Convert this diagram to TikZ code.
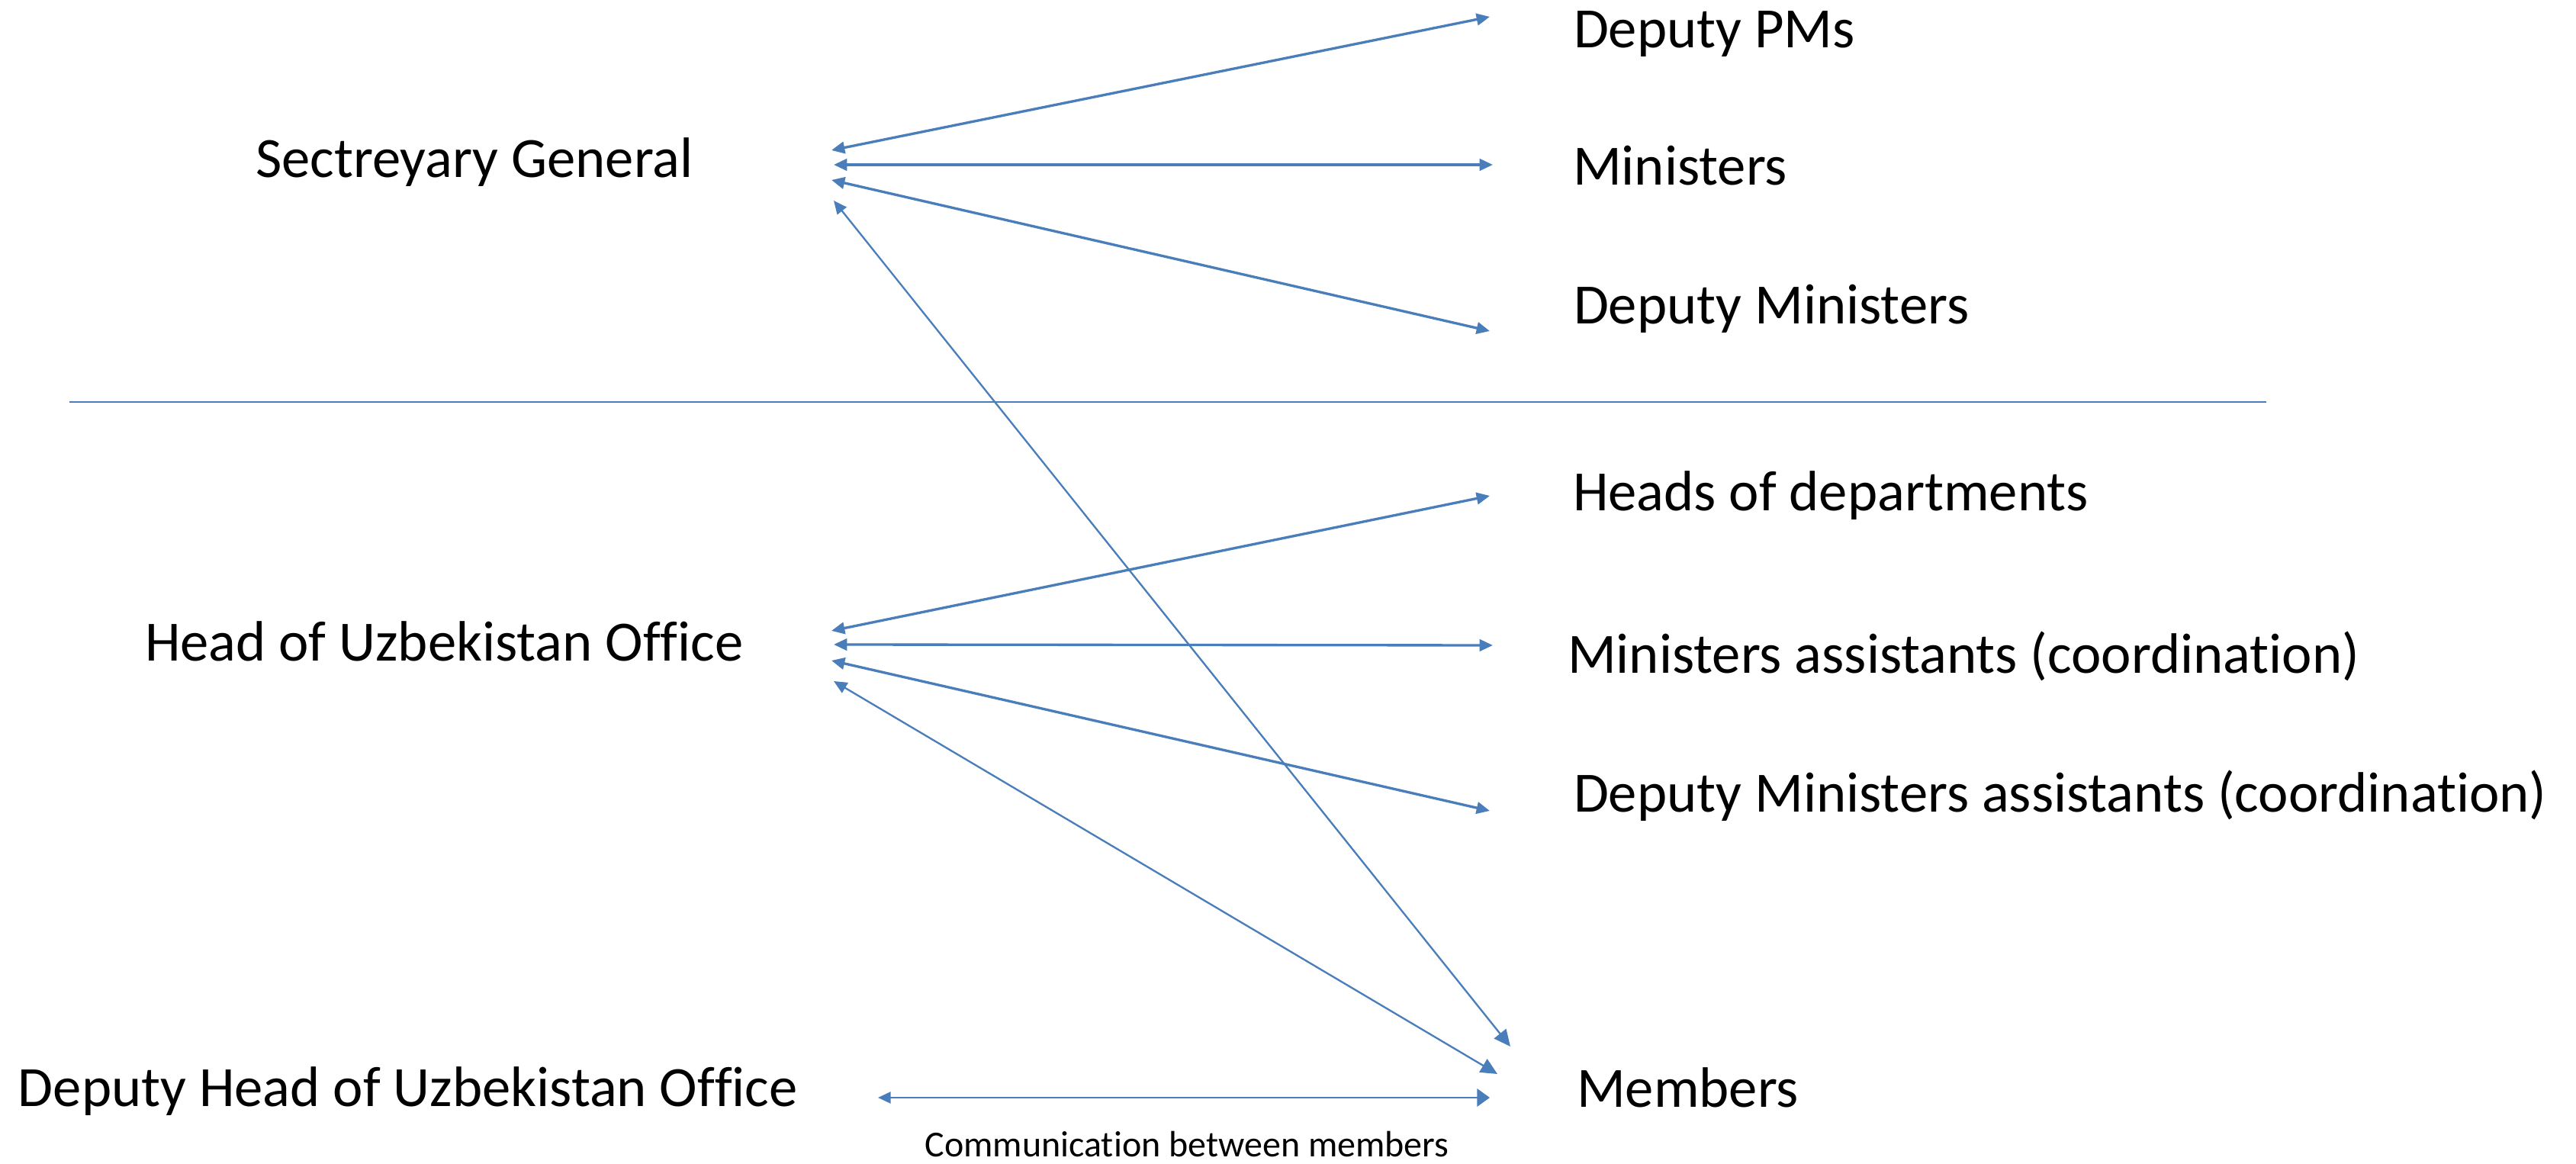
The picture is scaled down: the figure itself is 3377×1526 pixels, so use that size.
\documentclass[tikz,border=0pt]{standalone}
\usepackage{fontspec}
\setmainfont[RawFeature={-liga;-clig;-calt;-dlig}]{Carlito}
\usetikzlibrary{arrows.meta}
\definecolor{lineblue}{HTML}{4A7EBB}
\newcommand{\nb}{\kern0pt\relax}
\begin{document}
\begin{tikzpicture}[x=0.3pt,y=-0.3pt,
  lbl/.style={font=\fontsize{22.4}{27}\selectfont, anchor=base west, inner sep=0pt, outer sep=0pt},
  smalllbl/.style={font=\fontsize{14.4}{17}\selectfont, anchor=base, inner sep=0pt, outer sep=0pt},
  headm/.tip={Triangle[length=5.2pt,width=4.6pt]},
  headl/.tip={Triangle[length=6.5pt,width=6pt]},
  fan/.style={draw=lineblue, line width=1pt, headm-headm},
  diag/.style={draw=lineblue, line width=0.7pt, headm-headl},
  divider/.style={draw=lineblue, line width=0.8pt}]
\useasboundingbox (0,0) rectangle (3377,1526);

% text nodes
\node[lbl] (sg)   at (335,233)  {Sectreyary General};
\node[lbl] (dpm)  at (2063,63)  {Deputy PMs};
\node[lbl] (min)  at (2062,243) {Ministers};
\node[lbl] (dmin) at (2063,425) {Deputy Ministers};
\node[lbl] (hod)  at (2062,670) {Heads of departments};
\node[lbl] (hou)  at (190,867)  {Head of Uzbekistan Of\nb f\nb ice};
\node[lbl] (mina) at (2055,883) {Ministers assistants (coordinat\nb ion)};
\node[lbl] (dmina) at (2063,1065) {Deputy Ministers assistants (coordinat\nb ion)};
\node[lbl] (dhou) at (24,1451)  {Deputy Head of Uzbekistan Of\nb f\nb ice};
\node[lbl] (mem)  at (2067,1452) {Members};
\node[smalllbl] (comm) at (1556,1517) {Communicat\nb ion between members};

% arrow end points
\coordinate (sgA) at (1090,197);
\coordinate (sgB) at (1093,216);
\coordinate (sgC) at (1090,236);
\coordinate (sgD) at (1093,263);
\coordinate (dpmE) at (1953,22);
\coordinate (minE) at (1957,216);
\coordinate (dminE) at (1953,434);
\coordinate (houA) at (1090,827);
\coordinate (houB) at (1093,845);
\coordinate (houC) at (1090,866);
\coordinate (houD) at (1093,893);
\coordinate (hodE) at (1953,650);
\coordinate (minaE) at (1957,846);
\coordinate (dminaE) at (1953,1063);
\coordinate (memA) at (1980,1372);
\coordinate (memB) at (1963,1408);
\coordinate (memC) at (1953,1439);
\coordinate (dhouE) at (1151,1439);
\coordinate (divL) at (91,527);
\coordinate (divR) at (2971,527);

% divider
\draw[divider] (divL) -- (divR);

% Secretary General fan
\draw[fan] (sgA) -- (dpmE);
\draw[fan] (sgB) -- (minE);
\draw[fan] (sgC) -- (dminE);

% Head of Uzbekistan Office fan
\draw[fan] (houA) -- (hodE);
\draw[fan] (houB) -- (minaE);
\draw[fan] (houC) -- (dminaE);

% long diagonals to members
\draw[diag] (sgD) -- (memA);
\draw[diag] (houD) -- (memB);

% communication between members
\draw[draw=lineblue, line width=0.8pt, {Triangle[length=5pt,width=4.5pt]}-{Triangle[length=5pt,width=7pt]}] (dhouE) -- (memC);
\end{tikzpicture}
\end{document}
